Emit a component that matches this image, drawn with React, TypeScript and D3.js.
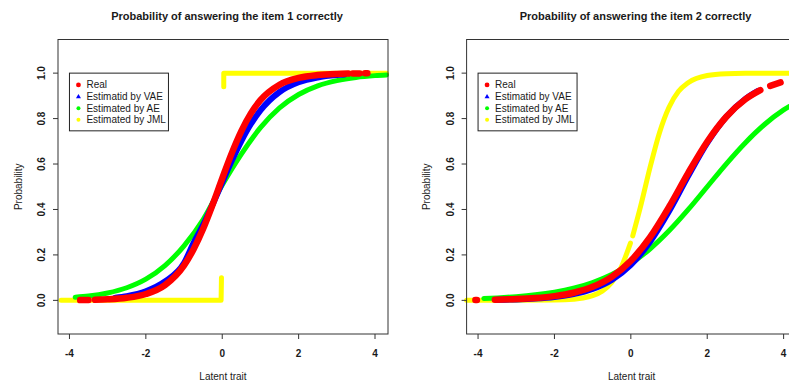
import React from 'react';
import * as d3 from 'd3';

type Pt = [number, number];
type Segs = Pt[][];

const W = 789;
const H = 382;

const panelTitles = [
  'Probability of answering the item 1 correctly',
  'Probability of answering the item 2 correctly',
];
const xTicks = [-4, -2, 0, 2, 4];
const yTicks = [0, 0.2, 0.4, 0.6, 0.8, 1.0];
const legendLabels = ['Real', 'Estimatid by VAE', 'Estimated by AE', 'Estimated by JML'];
const xLabel = 'Latent trait';
const yLabel = 'Probability';

// Item 1 — [latent trait, probability], split where the point cloud has gaps
const item1Real: Segs = [
  [[-3.72, 0.0012], [-3.5, 0.0018]],
  [
    [-3.33, 0.0024], [-3.0, 0.0045], [-2.5, 0.0112], [-2.0, 0.0279], [-1.5, 0.0672],
    [-1.0, 0.154], [-0.75, 0.225], [-0.5, 0.315], [-0.25, 0.422], [0, 0.537],
    [0.25, 0.648], [0.5, 0.745], [0.75, 0.823], [1.0, 0.881], [1.5, 0.949],
    [2.0, 0.979], [2.5, 0.9916], [3.0, 0.9967], [3.3, 0.9981],
  ],
  [[3.42, 0.9985], [3.6, 0.9988]],
  [[3.74, 0.999], [3.8, 0.999]],
];
const item1VAE: Segs = [
  [
    [-2.8, 0.0119], [-2.5, 0.0188], [-2.0, 0.04], [-1.5, 0.0829], [-1.0, 0.164],
    [-0.75, 0.253], [-0.5, 0.332], [-0.25, 0.423], [0, 0.519], [0.25, 0.614],
    [0.5, 0.701], [0.75, 0.776], [1.0, 0.836], [1.5, 0.917], [2.0, 0.96],
    [2.5, 0.981], [3.0, 0.9912], [3.2, 0.9936],
  ],
];
const item1AE: Segs = [
  [
    [-3.85, 0.0137], [-3.5, 0.0188], [-3.0, 0.0325], [-2.5, 0.0556], [-2.0, 0.0934],
    [-1.5, 0.153], [-1.0, 0.24], [-0.5, 0.356], [0, 0.508], [0.5, 0.644],
    [1.0, 0.76], [1.5, 0.847], [2.0, 0.906], [2.5, 0.944], [3.0, 0.967],
    [3.5, 0.981], [4.0, 0.989], [4.3, 0.992],
  ],
];
const item1JML: Segs = [
  [[-4.22, 0], [-0.03, 0], [-0.02, 0.1]],
  [[0.04, 0.94], [0.04, 1.0], [4.3, 1.0]],
];

// Item 2
const item2Real: Segs = [
  [[-4.07, 0.0016], [-4.03, 0.0017]],
  [
    [-3.56, 0.0029], [-3.0, 0.0057], [-2.5, 0.0103], [-2.0, 0.0187], [-1.5, 0.0336],
    [-1.0, 0.0595], [-0.5, 0.1034], [0, 0.174], [0.5, 0.277], [1.0, 0.411],
    [1.5, 0.56], [2.0, 0.698], [2.5, 0.808], [3.0, 0.885], [3.39, 0.925],
  ],
  [[3.65, 0.944], [3.92, 0.959]],
];
const item2VAE: Segs = [
  [
    [-3.5, 0.0023], [-3.0, 0.0043], [-2.5, 0.0081], [-2.0, 0.0149], [-1.5, 0.0276],
    [-1.0, 0.0502], [-0.5, 0.09], [0, 0.156], [0.5, 0.257], [1.0, 0.392],
    [1.5, 0.547], [2.0, 0.693], [2.5, 0.808], [3.0, 0.887], [3.33, 0.922],
  ],
];
const item2AE: Segs = [
  [
    [-3.85, 0.0082], [-3.5, 0.0109], [-3.0, 0.0163], [-2.5, 0.0244], [-2.0, 0.0363],
    [-1.5, 0.0536], [-1.0, 0.0787], [-0.5, 0.114], [0, 0.162], [0.5, 0.226],
    [1.0, 0.306], [1.5, 0.399], [2.0, 0.5], [2.5, 0.601], [3.0, 0.694],
    [3.5, 0.774], [4.0, 0.838], [4.4, 0.877],
  ],
];
const item2JML: Segs = [
  [
    [-4.3, 0], [-3.0, 0.0001], [-2.0, 0.0013], [-1.5, 0.0052], [-1.25, 0.0103],
    [-1.0, 0.0206], [-0.75, 0.0407], [-0.5, 0.0787], [-0.25, 0.147], [-0.01, 0.252],
  ],
  [
    [0.05, 0.284], [0.25, 0.41], [0.5, 0.583], [0.75, 0.738], [1.0, 0.85],
    [1.25, 0.92], [1.5, 0.958], [2.0, 0.9894], [2.5, 0.9974], [3.0, 0.9993],
    [4.4, 1.0],
  ],
];

const seriesColors = ['#ff0000', '#0000ff', '#00ff00', '#ffff00'];
const seriesWidths = [6.5, 6, 5, 5];

const X_DOMAIN: [number, number] = [-4.3, 4.34];
const Y_DOMAIN: [number, number] = [-0.148, 1.148];
const PLOT_W = 330;
const PLOT_TOP = 39.5;
const PLOT_BOTTOM = 334;

const FONT = "'Liberation Sans', Arial, Helvetica, sans-serif";
const INK = '#1a1a1a';

type PanelProps = {
  left: number;
  title: string;
  series: Segs[]; // Real, VAE, AE, JML
  linearJML?: boolean;
};

function Panel({ left, title, series, linearJML }: PanelProps) {
  const x = d3.scaleLinear().domain(X_DOMAIN).range([left, left + PLOT_W]);
  const y = d3.scaleLinear().domain(Y_DOMAIN).range([PLOT_BOTTOM, PLOT_TOP]);
  const smooth = d3
    .line<Pt>()
    .x((d) => x(d[0]))
    .y((d) => y(d[1]))
    .curve(d3.curveMonotoneX);
  const straight = d3
    .line<Pt>()
    .x((d) => x(d[0]))
    .y((d) => y(d[1]));

  // painted back to front: JML, AE, VAE, Real
  const order = [3, 2, 1, 0];
  const cx = left + PLOT_W / 2;

  const lgX = x(-4);
  const lgY = y(1.0);
  const lgW = 99;
  const lgH = 57.7;
  const rowH = 11.6;

  return (
    <g>
      <text
        x={cx + 4}
        y={19.5}
        textAnchor="middle"
        fontFamily={FONT}
        fontWeight="bold"
        fontSize={11}
        fill={INK}
      >
        {title}
      </text>

      <g>
        {order.map((si) =>
          series[si].map((seg, k) => (
            <path
              key={`${si}-${k}`}
              d={(si === 3 && linearJML ? straight(seg) : smooth(seg)) || ''}
              fill="none"
              stroke={seriesColors[si]}
              strokeWidth={seriesWidths[si]}
              strokeLinecap="round"
              strokeLinejoin="round"
            />
          ))
        )}
      </g>

      <rect
        x={left}
        y={PLOT_TOP}
        width={PLOT_W}
        height={PLOT_BOTTOM - PLOT_TOP}
        fill="none"
        stroke="#333"
        strokeWidth={1}
      />

      {xTicks.map((t) => (
        <g key={`xt${t}`}>
          <line x1={x(t)} x2={x(t)} y1={PLOT_BOTTOM} y2={PLOT_BOTTOM + 5} stroke="#333" />
          <text
            x={x(t)}
            y={356.5}
            textAnchor="middle"
            fontFamily={FONT}
            fontWeight="bold"
            fontSize={10}
            fill={INK}
          >
            {t}
          </text>
        </g>
      ))}
      {yTicks.map((t) => (
        <g key={`yt${t}`}>
          <line x1={left - 5} x2={left} y1={y(t)} y2={y(t)} stroke="#333" />
          <text
            transform={`translate(${left - 16.3},${y(t)}) rotate(-90)`}
            dy="0.35em"
            textAnchor="middle"
            fontFamily={FONT}
            fontWeight="bold"
            fontSize={10}
            fill={INK}
          >
            {t.toFixed(1)}
          </text>
        </g>
      ))}

      <text
        x={cx}
        y={380}
        textAnchor="middle"
        fontFamily={FONT}
        fontSize={10}
        fill={INK}
      >
        {xLabel}
      </text>
      <text
        transform={`translate(${left - 39.7},${(PLOT_TOP + PLOT_BOTTOM) / 2}) rotate(-90)`}
        dy="0.35em"
        textAnchor="middle"
        fontFamily={FONT}
        fontSize={10}
        fill={INK}
      >
        {yLabel}
      </text>

      <g>
        <rect x={lgX} y={lgY} width={lgW} height={lgH} fill="#fff" stroke="#222" strokeWidth={1} />
        {legendLabels.map((lab, i) => {
          const ry = lgY + 11.8 + i * rowH;
          const sx = lgX + 9;
          return (
            <g key={lab}>
              {i === 1 ? (
                <path
                  d={`M${sx},${ry - 2.6} L${sx + 2.5},${ry + 1.8} L${sx - 2.5},${ry + 1.8} Z`}
                  fill={seriesColors[i]}
                />
              ) : (
                <circle cx={sx} cy={ry} r={i === 0 ? 2.4 : 2} fill={seriesColors[i]} />
              )}
              <text
                x={lgX + 17}
                y={ry}
                dy="0.35em"
                fontFamily={FONT}
                fontSize={10}
                fill={INK}
              >
                {lab}
              </text>
            </g>
          );
        })}
      </g>
    </g>
  );
}

export default function App() {
  return (
    <svg
      width={W}
      height={H}
      viewBox={`0 0 ${W} ${H}`}
      style={{ position: 'absolute', left: 0, top: 0, display: 'block', background: '#fff' }}
    >
      <rect x={0} y={0} width={W} height={H} fill="#fff" />
      <Panel
        left={58}
        title={panelTitles[0]}
        series={[item1Real, item1VAE, item1AE, item1JML]}
        linearJML
      />
      <Panel
        left={466.6}
        title={panelTitles[1]}
        series={[item2Real, item2VAE, item2AE, item2JML]}
      />
    </svg>
  );
}
